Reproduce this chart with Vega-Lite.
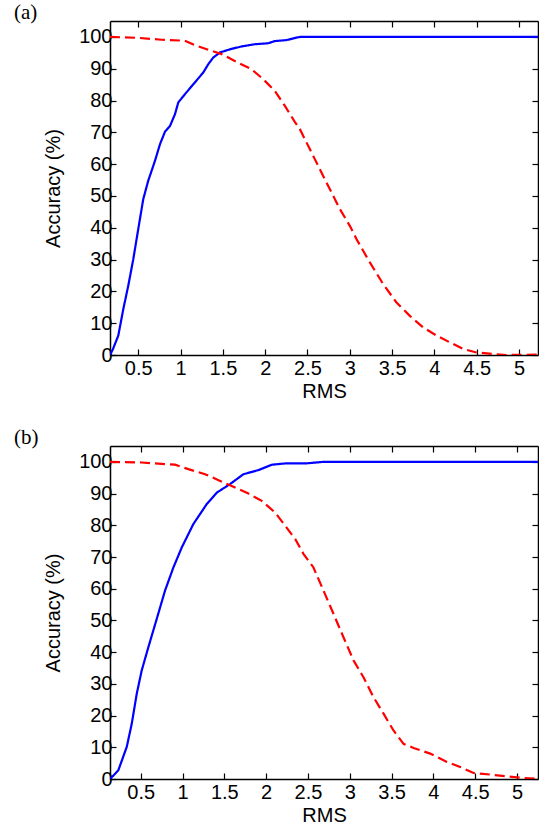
{
  "$schema": "https://vega.github.io/schema/vega-lite/v6.json",
  "padding": {"left": 14, "top": 2, "right": 0, "bottom": 0},
  "spacing": 26,
  "config": {
    "view": {"stroke": null},
    "font": "Liberation Sans",
    "axis": {
      "grid": false,
      "domainColor": "#000000",
      "domainWidth": 1.5,
      "tickColor": "#000000",
      "tickWidth": 1.2,
      "tickSize": -6,
      "labelFont": "Liberation Sans",
      "labelFontSize": 20,
      "labelColor": "#000000",
      "titleFont": "Liberation Sans",
      "titleFontSize": 20,
      "titleFontWeight": "normal",
      "titleColor": "#000000"
    },
    "title": {"font": "Liberation Serif", "fontSize": 21, "fontWeight": "normal", "color": "#000000", "offset": -3}
  },
  "datasets": {
    "a": [
      {"rms": 0.166, "acc": 0, "s": "blue"},
      {"rms": 0.2, "acc": 1.8, "s": "blue"},
      {"rms": 0.264, "acc": 6.1, "s": "blue"},
      {"rms": 0.323, "acc": 14.4, "s": "blue"},
      {"rms": 0.382, "acc": 21.8, "s": "blue"},
      {"rms": 0.441, "acc": 30.1, "s": "blue"},
      {"rms": 0.5, "acc": 39.6, "s": "blue"},
      {"rms": 0.559, "acc": 49, "s": "blue"},
      {"rms": 0.618, "acc": 54.8, "s": "blue"},
      {"rms": 0.697, "acc": 61, "s": "blue"},
      {"rms": 0.757, "acc": 66.3, "s": "blue"},
      {"rms": 0.816, "acc": 70.2, "s": "blue"},
      {"rms": 0.875, "acc": 72, "s": "blue"},
      {"rms": 0.934, "acc": 75.7, "s": "blue"},
      {"rms": 0.973, "acc": 79.4, "s": "blue"},
      {"rms": 1.052, "acc": 82, "s": "blue"},
      {"rms": 1.15, "acc": 85.1, "s": "blue"},
      {"rms": 1.268, "acc": 88.8, "s": "blue"},
      {"rms": 1.327, "acc": 91.4, "s": "blue"},
      {"rms": 1.386, "acc": 93.5, "s": "blue"},
      {"rms": 1.465, "acc": 95.1, "s": "blue"},
      {"rms": 1.583, "acc": 96.1, "s": "blue"},
      {"rms": 1.72, "acc": 97, "s": "blue"},
      {"rms": 1.878, "acc": 97.7, "s": "blue"},
      {"rms": 2.035, "acc": 98, "s": "blue"},
      {"rms": 2.115, "acc": 98.7, "s": "blue"},
      {"rms": 2.253, "acc": 99, "s": "blue"},
      {"rms": 2.371, "acc": 99.8, "s": "blue"},
      {"rms": 2.42, "acc": 100, "s": "blue"},
      {"rms": 5.224, "acc": 100, "s": "blue"},
      {"rms": 0.166, "acc": 100, "s": "red"},
      {"rms": 0.5, "acc": 99.7, "s": "red"},
      {"rms": 0.776, "acc": 99.1, "s": "red"},
      {"rms": 1.05, "acc": 98.8, "s": "red"},
      {"rms": 1.17, "acc": 97.4, "s": "red"},
      {"rms": 1.367, "acc": 95.6, "s": "red"},
      {"rms": 1.485, "acc": 94.6, "s": "red"},
      {"rms": 1.68, "acc": 91.9, "s": "red"},
      {"rms": 1.84, "acc": 89.8, "s": "red"},
      {"rms": 1.977, "acc": 86.7, "s": "red"},
      {"rms": 2.115, "acc": 83, "s": "red"},
      {"rms": 2.233, "acc": 78.3, "s": "red"},
      {"rms": 2.35, "acc": 73.3, "s": "red"},
      {"rms": 2.41, "acc": 71, "s": "red"},
      {"rms": 2.567, "acc": 62.6, "s": "red"},
      {"rms": 2.725, "acc": 54.2, "s": "red"},
      {"rms": 2.882, "acc": 45.9, "s": "red"},
      {"rms": 3.0, "acc": 40.6, "s": "red"},
      {"rms": 3.08, "acc": 36.4, "s": "red"},
      {"rms": 3.237, "acc": 29.1, "s": "red"},
      {"rms": 3.394, "acc": 22.3, "s": "red"},
      {"rms": 3.552, "acc": 16.5, "s": "red"},
      {"rms": 3.709, "acc": 12.3, "s": "red"},
      {"rms": 3.866, "acc": 8.7, "s": "red"},
      {"rms": 4.025, "acc": 6.1, "s": "red"},
      {"rms": 4.18, "acc": 4.0, "s": "red"},
      {"rms": 4.34, "acc": 1.9, "s": "red"},
      {"rms": 4.497, "acc": 0.8, "s": "red"},
      {"rms": 4.693, "acc": 0.3, "s": "red"},
      {"rms": 4.85, "acc": 0, "s": "red"},
      {"rms": 5.224, "acc": 0.1, "s": "red"}
    ],
    "b": [
      {"rms": 0.133, "acc": 0, "s": "blue"},
      {"rms": 0.232, "acc": 2.7, "s": "blue"},
      {"rms": 0.333, "acc": 10.1, "s": "blue"},
      {"rms": 0.393, "acc": 17.4, "s": "blue"},
      {"rms": 0.453, "acc": 26.9, "s": "blue"},
      {"rms": 0.512, "acc": 34.2, "s": "blue"},
      {"rms": 0.591, "acc": 41.5, "s": "blue"},
      {"rms": 0.692, "acc": 50.5, "s": "blue"},
      {"rms": 0.791, "acc": 59.4, "s": "blue"},
      {"rms": 0.891, "acc": 66.7, "s": "blue"},
      {"rms": 0.991, "acc": 73, "s": "blue"},
      {"rms": 1.13, "acc": 80.4, "s": "blue"},
      {"rms": 1.29, "acc": 86.7, "s": "blue"},
      {"rms": 1.41, "acc": 90.3, "s": "blue"},
      {"rms": 1.569, "acc": 93, "s": "blue"},
      {"rms": 1.728, "acc": 96.1, "s": "blue"},
      {"rms": 1.908, "acc": 97.4, "s": "blue"},
      {"rms": 2.068, "acc": 99.1, "s": "blue"},
      {"rms": 2.227, "acc": 99.5, "s": "blue"},
      {"rms": 2.467, "acc": 99.5, "s": "blue"},
      {"rms": 2.686, "acc": 100, "s": "blue"},
      {"rms": 5.25, "acc": 100, "s": "blue"},
      {"rms": 0.133, "acc": 100, "s": "red"},
      {"rms": 0.512, "acc": 99.8, "s": "red"},
      {"rms": 0.911, "acc": 99.1, "s": "red"},
      {"rms": 1.07, "acc": 97.7, "s": "red"},
      {"rms": 1.27, "acc": 96.1, "s": "red"},
      {"rms": 1.45, "acc": 94, "s": "red"},
      {"rms": 1.629, "acc": 91.9, "s": "red"},
      {"rms": 1.788, "acc": 90, "s": "red"},
      {"rms": 1.948, "acc": 87.7, "s": "red"},
      {"rms": 2.108, "acc": 84, "s": "red"},
      {"rms": 2.227, "acc": 79.9, "s": "red"},
      {"rms": 2.347, "acc": 75.7, "s": "red"},
      {"rms": 2.446, "acc": 71, "s": "red"},
      {"rms": 2.566, "acc": 66.7, "s": "red"},
      {"rms": 2.686, "acc": 59.4, "s": "red"},
      {"rms": 2.805, "acc": 52.1, "s": "red"},
      {"rms": 2.925, "acc": 44.7, "s": "red"},
      {"rms": 3.045, "acc": 37.4, "s": "red"},
      {"rms": 3.164, "acc": 32.1, "s": "red"},
      {"rms": 3.284, "acc": 25.8, "s": "red"},
      {"rms": 3.404, "acc": 20.6, "s": "red"},
      {"rms": 3.523, "acc": 15.3, "s": "red"},
      {"rms": 3.643, "acc": 11.1, "s": "red"},
      {"rms": 3.763, "acc": 9.8, "s": "red"},
      {"rms": 3.962, "acc": 8.0, "s": "red"},
      {"rms": 4.162, "acc": 5.4, "s": "red"},
      {"rms": 4.32, "acc": 3.8, "s": "red"},
      {"rms": 4.481, "acc": 1.9, "s": "red"},
      {"rms": 4.68, "acc": 1.4, "s": "red"},
      {"rms": 4.88, "acc": 0.85, "s": "red"},
      {"rms": 5.08, "acc": 0.3, "s": "red"},
      {"rms": 5.25, "acc": 0.1, "s": "red"}
    ]
  },
  "vconcat": [
    {
      "width": 428,
      "height": 334,
      "title": {"text": "(a)", "anchor": "start", "frame": "group", "dx": -96},
      "data": {"name": "a"},
      "layer": [
        {
          "mark": {"type": "line", "strokeWidth": 2.2, "clip": true},
          "encoding": {
            "x": {"field": "rms", "type": "quantitative", "title": "RMS",
              "scale": {"domain": [0.166, 5.224], "nice": false, "zero": false},
              "axis": {"orient": "bottom", "format": "~g", "values": [0.5, 1, 1.5, 2, 2.5, 3, 3.5, 4, 4.5, 5], "labelPadding": 9, "titlePadding": 3, "labelFlush": false, "labelOverlap": false}},
            "y": {"field": "acc", "type": "quantitative", "title": "Accuracy (%)",
              "scale": {"domain": [0, 105], "nice": false, "zero": false},
              "axis": {"orient": "left", "values": [0, 10, 20, 30, 40, 50, 60, 70, 80, 90, 100], "labelPadding": 4, "titlePadding": 15, "labelFlush": false, "labelOverlap": false}},
            "color": {"field": "s", "type": "nominal", "scale": {"domain": ["blue", "red"], "range": ["#0000ff", "#ff0000"]}, "legend": null},
            "strokeDash": {"field": "s", "type": "nominal", "scale": {"domain": ["blue", "red"], "range": [[1, 0], [10, 5]]}, "legend": null}
          }
        },
        {
          "mark": {"type": "line", "strokeOpacity": 0},
          "encoding": {
            "x": {"field": "rms", "type": "quantitative", "axis": {"orient": "top", "labels": false, "title": null, "values": [0.5, 1, 1.5, 2, 2.5, 3, 3.5, 4, 4.5, 5]}},
            "y": {"field": "acc", "type": "quantitative", "axis": {"orient": "right", "labels": false, "title": null, "values": [0, 10, 20, 30, 40, 50, 60, 70, 80, 90, 100]}}
          }
        }
      ],
      "resolve": {"axis": {"x": "independent", "y": "independent"}}
    },
    {
      "width": 428,
      "height": 333,
      "title": {"text": "(b)", "anchor": "start", "frame": "group", "dx": -96},
      "data": {"name": "b"},
      "layer": [
        {
          "mark": {"type": "line", "strokeWidth": 2.2, "clip": true},
          "encoding": {
            "x": {"field": "rms", "type": "quantitative", "title": "RMS",
              "scale": {"domain": [0.133, 5.251], "nice": false, "zero": false},
              "axis": {"orient": "bottom", "format": "~g", "values": [0.5, 1, 1.5, 2, 2.5, 3, 3.5, 4, 4.5, 5], "labelPadding": 9, "titlePadding": 3, "labelFlush": false, "labelOverlap": false}},
            "y": {"field": "acc", "type": "quantitative", "title": "Accuracy (%)",
              "scale": {"domain": [0, 105], "nice": false, "zero": false},
              "axis": {"orient": "left", "values": [0, 10, 20, 30, 40, 50, 60, 70, 80, 90, 100], "labelPadding": 4, "titlePadding": 15, "labelFlush": false, "labelOverlap": false}},
            "color": {"field": "s", "type": "nominal", "scale": {"domain": ["blue", "red"], "range": ["#0000ff", "#ff0000"]}, "legend": null},
            "strokeDash": {"field": "s", "type": "nominal", "scale": {"domain": ["blue", "red"], "range": [[1, 0], [10, 5]]}, "legend": null}
          }
        },
        {
          "mark": {"type": "line", "strokeOpacity": 0},
          "encoding": {
            "x": {"field": "rms", "type": "quantitative", "axis": {"orient": "top", "labels": false, "title": null, "values": [0.5, 1, 1.5, 2, 2.5, 3, 3.5, 4, 4.5, 5]}},
            "y": {"field": "acc", "type": "quantitative", "axis": {"orient": "right", "labels": false, "title": null, "values": [0, 10, 20, 30, 40, 50, 60, 70, 80, 90, 100]}}
          }
        }
      ],
      "resolve": {"axis": {"x": "independent", "y": "independent"}}
    }
  ]
}
